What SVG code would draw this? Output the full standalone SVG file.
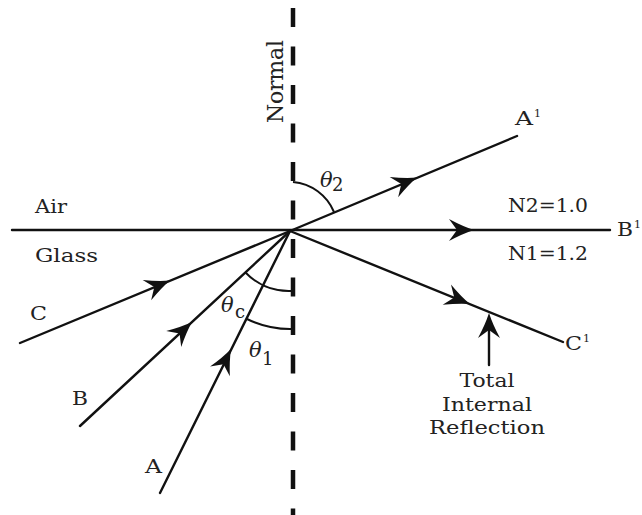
<svg xmlns="http://www.w3.org/2000/svg" xmlns:xlink="http://www.w3.org/1999/xlink" width="642" height="515" viewBox="0 0 642 515">
<defs>
<style>
.ray{stroke:#111;stroke-width:2.4;fill:none;stroke-linecap:round}
.arc{stroke:#111;stroke-width:2;fill:none}
.normal{stroke:#111;stroke-width:4.5;stroke-dasharray:19 19.5;fill:none}
.t{font-family:"DejaVu Serif","Liberation Serif",serif;font-size:19px;fill:#222}
.sup{font-family:"DejaVu Serif","Liberation Serif",serif;font-size:11px;fill:#222}
.th{font-family:"DejaVu Serif","Liberation Serif",serif;font-style:italic;font-size:21px;fill:#222}
.sub{font-family:"DejaVu Serif","Liberation Serif",serif;font-size:18px;fill:#222}
</style>
<path id="ah" d="M0,0 Q-11,-3.5 -25,-11 L-17,0 L-25,11 Q-11,3.5 0,0 Z" fill="#111"/>
</defs>
<rect width="642" height="515" fill="#fff"/>

<g id="normal">
<line class="normal" x1="293" y1="8" x2="293" y2="515"/>
<text class="t" transform="translate(283,123) rotate(-90)" textLength="83" style="font-size:22px">Normal</text>
</g>

<g id="connectors">
<line class="ray" x1="12" y1="230" x2="610" y2="230"/>
<line class="ray" x1="20" y1="343" x2="290" y2="231"/>
<line class="ray" x1="80" y1="426" x2="290" y2="231"/>
<line class="ray" x1="160" y1="493" x2="290" y2="231"/>
<line class="ray" x1="290" y1="231" x2="517" y2="136"/>
<line class="ray" x1="290" y1="231" x2="563" y2="342"/>
<line class="ray" x1="489" y1="365" x2="489" y2="318"/>
<use xlink:href="#ah" transform="translate(170,280.5) rotate(-22.6)"/>
<use xlink:href="#ah" transform="translate(192,322) rotate(-43)"/>
<use xlink:href="#ah" transform="translate(231,349) rotate(-63.8)"/>
<use xlink:href="#ah" transform="translate(417,177.5) rotate(-22.6)"/>
<use xlink:href="#ah" transform="translate(474,230)"/>
<use xlink:href="#ah" transform="translate(470,304) rotate(22.1)"/>
<use xlink:href="#ah" transform="translate(489,313) rotate(-90)"/>
<path class="arc" d="M293,182 A49,49 0 0 1 334,212"/>
<path class="arc" d="M245,272 A60,60 0 0 0 290,291 L294,291"/>
<path class="arc" d="M247,319 A98,98 0 0 0 290,329 L294,329"/>
</g>

<g id="media">
<text class="t" x="35" y="213" textLength="32" lengthAdjust="spacingAndGlyphs">Air</text>
<text class="t" x="35" y="262" textLength="63" lengthAdjust="spacingAndGlyphs">Glass</text>
<text class="t" x="508" y="212" textLength="80" lengthAdjust="spacingAndGlyphs">N2=1.0</text>
<text class="t" x="508" y="260" textLength="80" lengthAdjust="spacingAndGlyphs">N1=1.2</text>
</g>

<g id="rayA">
<text class="t" x="145" y="473" textLength="17" lengthAdjust="spacingAndGlyphs">A</text>
</g>
<g id="rayB">
<text class="t" x="72" y="405" textLength="16" lengthAdjust="spacingAndGlyphs">B</text>
</g>
<g id="rayC">
<text class="t" x="30" y="320" textLength="17" lengthAdjust="spacingAndGlyphs">C</text>
</g>
<g id="rayA1">
<text class="t" x="515" y="125" textLength="18" lengthAdjust="spacingAndGlyphs">A</text>
<text class="sup" x="534" y="117">1</text>
</g>
<g id="rayB1">
<text class="t" x="617" y="236" textLength="16" lengthAdjust="spacingAndGlyphs">B</text>
<text class="sup" x="634" y="228">1</text>
</g>
<g id="rayC1">
<text class="t" x="565" y="350" textLength="17" lengthAdjust="spacingAndGlyphs">C</text>
<text class="sup" x="583" y="342">1</text>
</g>

<g id="angles">
<text class="th" x="320" y="187">θ</text>
<text class="sub" x="332" y="191">2</text>
<text class="th" x="221" y="312">θ</text>
<text class="sub" x="235" y="318">c</text>
<text class="th" x="249" y="357">θ</text>
<text class="sub" x="262" y="365">1</text>
</g>

<g id="tir">
<text class="t" x="487" y="387" text-anchor="middle" textLength="55" lengthAdjust="spacingAndGlyphs">Total</text>
<text class="t" x="487" y="411" text-anchor="middle" textLength="90" lengthAdjust="spacingAndGlyphs">Internal</text>
<text class="t" x="487" y="434" text-anchor="middle" textLength="116" lengthAdjust="spacingAndGlyphs">Reflection</text>
</g>
</svg>
